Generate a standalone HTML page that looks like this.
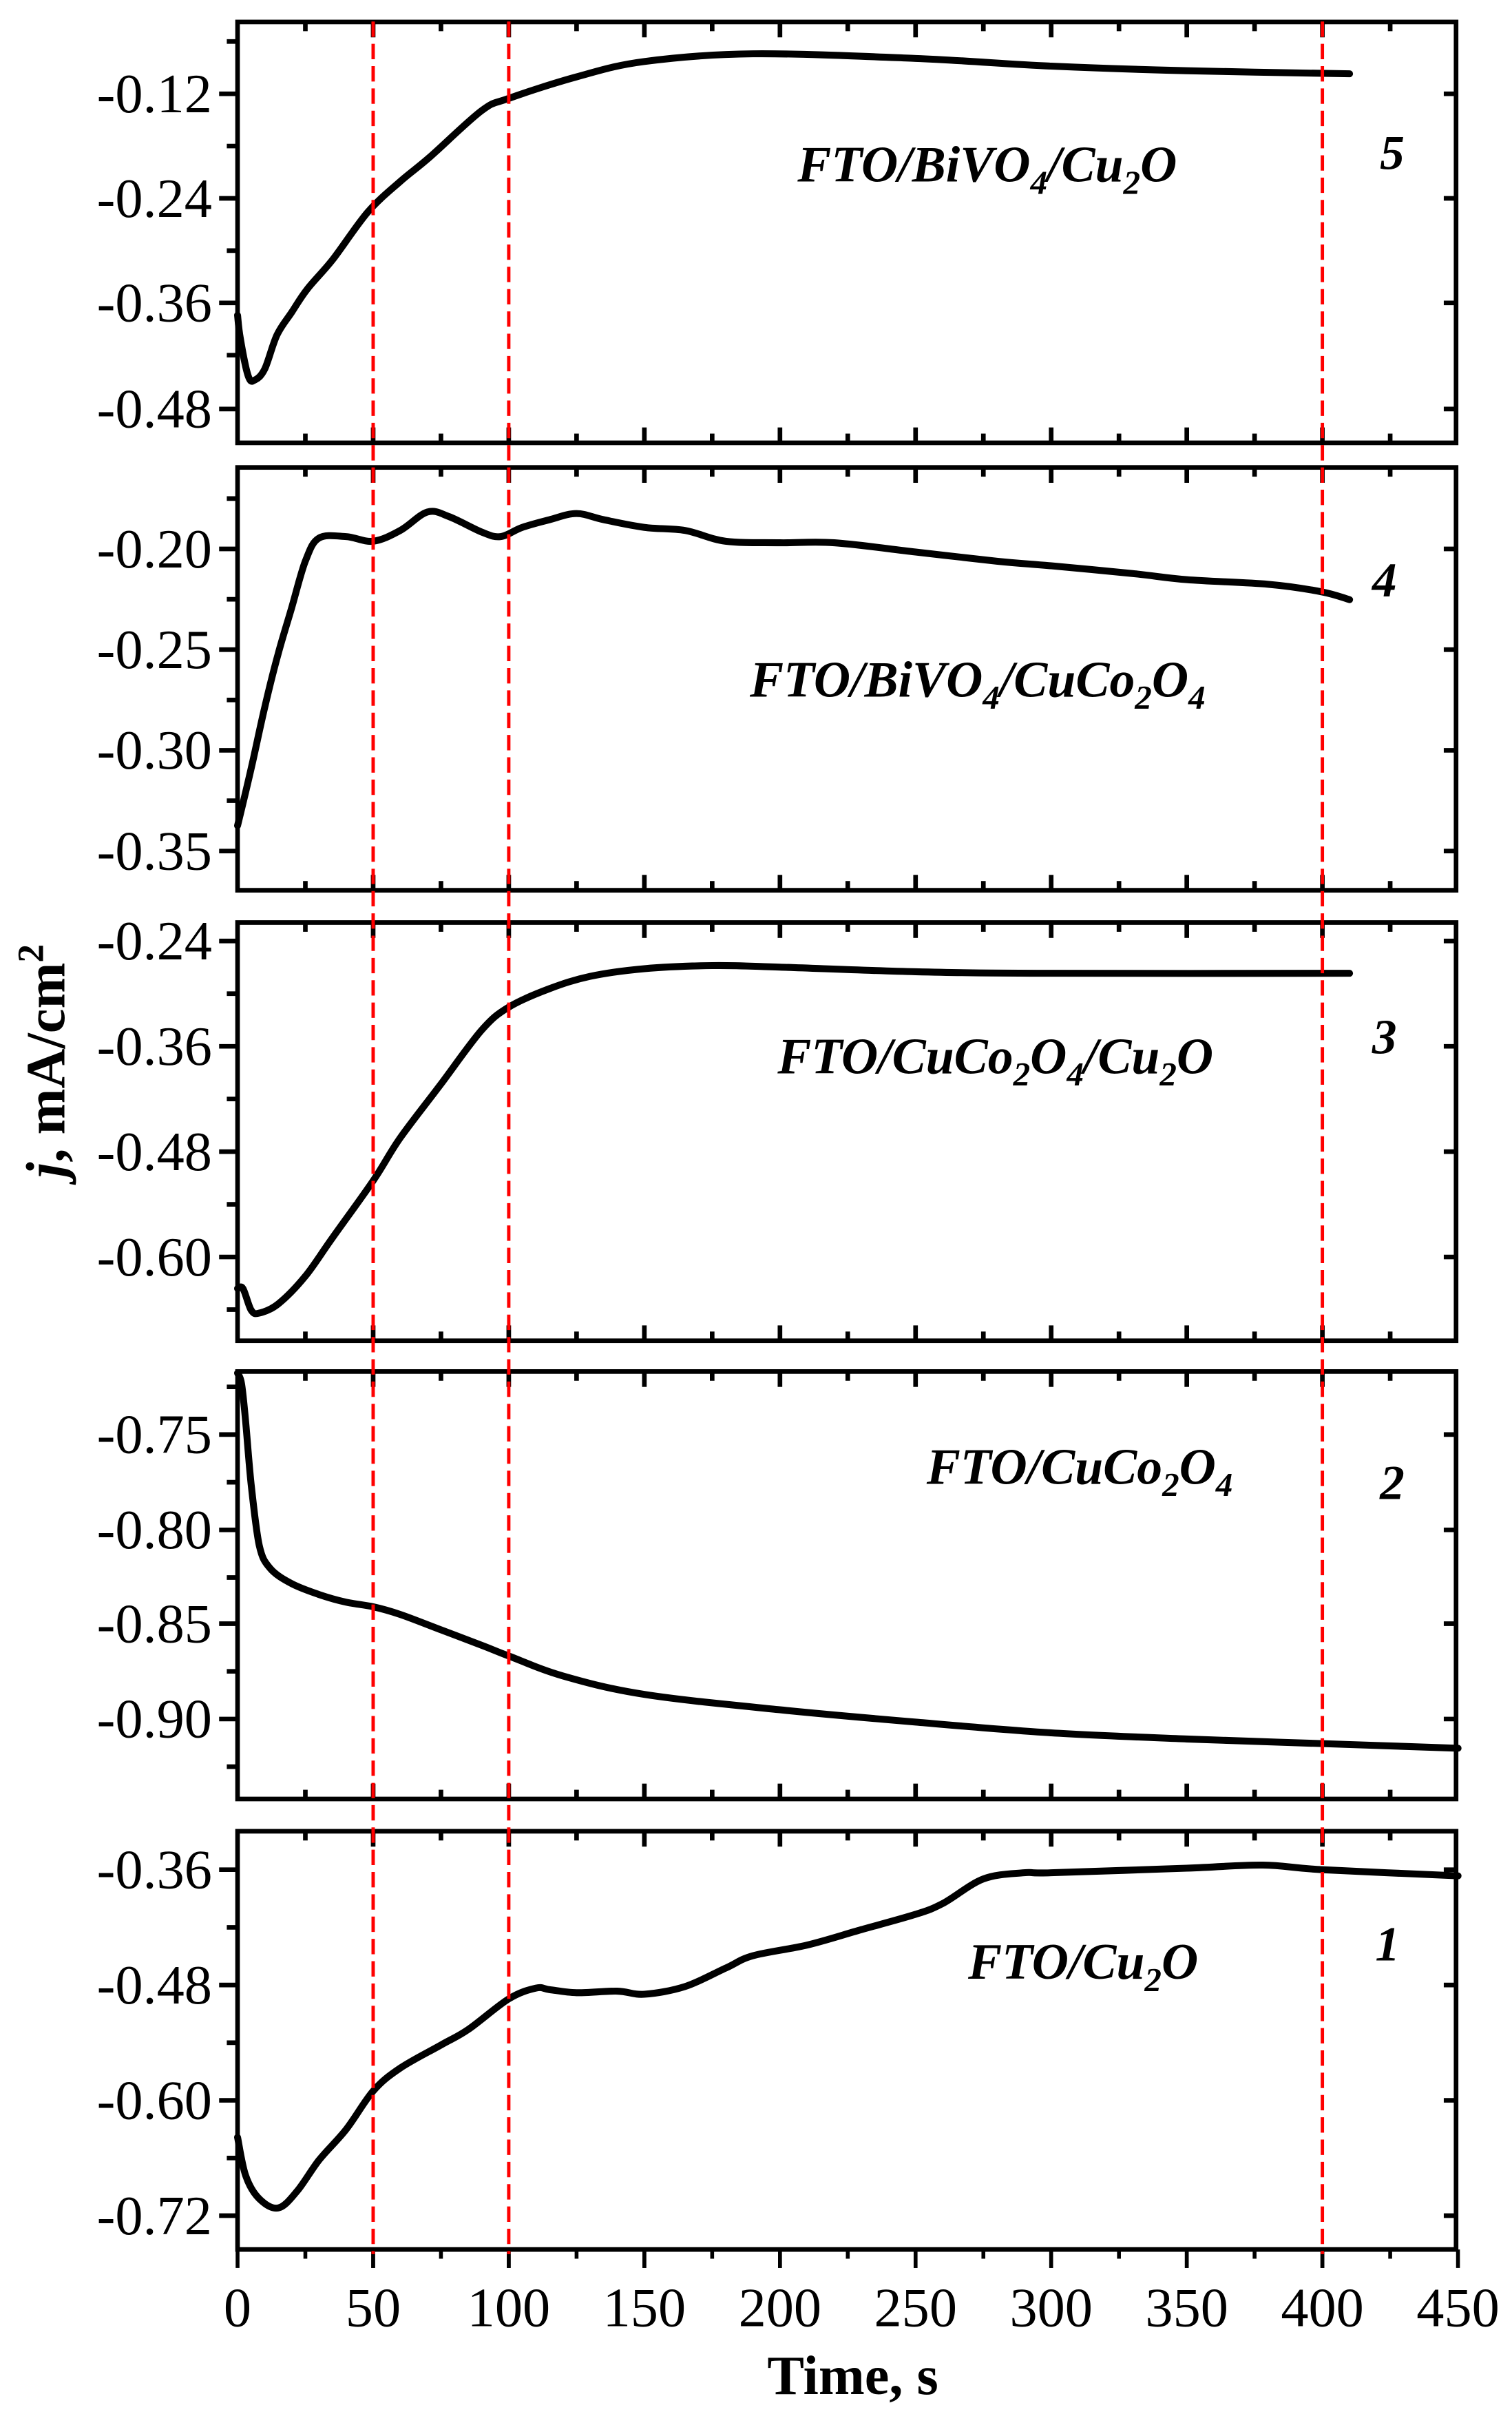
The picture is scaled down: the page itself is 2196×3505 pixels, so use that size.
<!DOCTYPE html>
<html><head><meta charset="utf-8"><style>
html,body{margin:0;padding:0;background:#fff}
svg{display:block}
text{font-family:"Liberation Serif",serif}
</style></head><body>
<svg id="s" width="2196" height="3505" viewBox="0 0 984 1570" xmlns="http://www.w3.org/2000/svg" preserveAspectRatio="none">
<rect width="984" height="1570" fill="#fff"/>
<g id="g"></g>
<g font-style="italic" font-weight="bold" font-size="33" fill="#000">
<text x="519" y="118">FTO/BiVO<tspan font-size="22" dy="8">4</tspan><tspan dy="-8">/Cu</tspan><tspan font-size="22" dy="8">2</tspan><tspan dy="-8">O</tspan></text>
<text x="898" y="110" font-size="32">5</text>
<text x="488" y="453">FTO/BiVO<tspan font-size="22" dy="8">4</tspan><tspan dy="-8">/CuCo</tspan><tspan font-size="22" dy="8">2</tspan><tspan dy="-8">O</tspan><tspan font-size="22" dy="8">4</tspan></text>
<text x="893" y="388" font-size="32">4</text>
<text x="506" y="698">FTO/CuCo<tspan font-size="22" dy="8">2</tspan><tspan dy="-8">O</tspan><tspan font-size="22" dy="8">4</tspan><tspan dy="-8">/Cu</tspan><tspan font-size="22" dy="8">2</tspan><tspan dy="-8">O</tspan></text>
<text x="893" y="685" font-size="32">3</text>
<text x="603" y="965">FTO/CuCo<tspan font-size="22" dy="8">2</tspan><tspan dy="-8">O</tspan><tspan font-size="22" dy="8">4</tspan></text>
<text x="898" y="975" font-size="32">2</text>
<text x="630" y="1287">FTO/Cu<tspan font-size="22" dy="8">2</tspan><tspan dy="-8">O</tspan></text>
<text x="895" y="1275" font-size="32">1</text>
</g>
<text x="555" y="1557" font-size="36" font-weight="bold" text-anchor="middle">Time, s</text>
<text transform="translate(42,690) rotate(-90)" font-size="36" font-weight="bold" text-anchor="middle"><tspan font-style="italic">j</tspan>, mA/cm<tspan font-size="24" dy="-14">2</tspan></text>
</svg>
<script>
var NS="http://www.w3.org/2000/svg",g=document.getElementById("g");
function el(n,a,t){var e=document.createElementNS(NS,n);for(var k in a)e.setAttribute(k,a[k]);if(t!=null)e.textContent=t;g.appendChild(e);return e;}
var L=154.6,R=947.6;function X(t){return L+t*1.765;}
var P=[
{top:14.3,bot:288,ticks:[["-0.12",61],["-0.24",129],["-0.36",197],["-0.48",266]],
d:[[0,205],[1,220],[4,245],[6.5,247],[10,240],[14.5,218],[20,203],[25.7,188],[35,169],[48,138],[60,118],[71,102],[90,72],[100,64],[125,50],[150,40],[190,35],[250,38],[300,43],[350,46],[410,48]]},
{top:304,bot:579,ticks:[["-0.20",357],["-0.25",422.5],["-0.30",488],["-0.35",553.5]],
d:[[0,537],[5,500],[10,460],[15,425],[20,395],[25,365],[30,350],[40,349],[50,352],[60,345],[70,333],[78,336],[90,346],[97,349],[105,343],[115,338],[125,334],[135,338],[150,343],[165,345],[180,352],[200,353],[220,353],[250,359],[280,365],[300,368],[330,373],[350,377],[380,380],[400,385],[410,390]]},
{top:600,bot:872,ticks:[["-0.24",612],["-0.36",680.5],["-0.48",749],["-0.60",817.5]],
d:[[0,838],[2,838],[5,852],[8,854],[15,848],[25,830],[35,805],[50,768],[60,740],[75,705],[90,670],[100,655],[115,643],[130,635],[150,630],[175,628],[200,629],[250,632],[300,633],[410,633]]},
{top:892,bot:1170,ticks:[["-0.75",933],["-0.80",995],["-0.85",1056],["-0.90",1118]],
d:[[0,893],[1.5,900],[3,925],[5,965],[8,1005],[12,1020],[20,1030],[30,1037],[40,1042],[50,1045],[60,1050],[75,1060],[90,1070],[100,1077],[120,1090],[150,1102],[200,1112],[250,1120],[300,1127],[350,1131],[400,1134],[450,1137]]},
{top:1191,bot:1463,ticks:[["-0.36",1216],["-0.48",1291],["-0.60",1366],["-0.72",1441]],last:1,
d:[[0,1390],[3,1415],[8,1430],[15,1436],[22,1425],[30,1405],[40,1385],[50,1360],[60,1345],[75,1330],[85,1320],[100,1300],[110,1293],[115,1294],[125,1296],[140,1295],[150,1297],[165,1292],[180,1280],[190,1272],[210,1265],[230,1255],[250,1245],[260,1238],[275,1222],[290,1218],[300,1218],[350,1215],[378,1213],[400,1216],[450,1220]]}
];
function smooth(pts){var s="M"+pts[0][0].toFixed(1)+","+pts[0][1];
 for(var i=0;i<pts.length-1;i++){var p0=pts[Math.max(0,i-1)],p1=pts[i],p2=pts[i+1],p3=pts[Math.min(pts.length-1,i+2)];
  var c1x=p1[0]+(p2[0]-p0[0])/6,c1y=p1[1]+(p2[1]-p0[1])/6,c2x=p2[0]-(p3[0]-p1[0])/6,c2y=p2[1]-(p3[1]-p1[1])/6;
  s+="C"+c1x.toFixed(1)+","+c1y.toFixed(1)+" "+c2x.toFixed(1)+","+c2y.toFixed(1)+" "+p2[0].toFixed(1)+","+p2[1];}
 return s;}
P.forEach(function(p){
 var pts=p.d.map(function(q){return [X(q[0]),q[1]];});
 el("path",{d:smooth(pts),fill:"none",stroke:"#000","stroke-width":4.5,"stroke-linejoin":"round","stroke-linecap":"round"});
 var sp=p.ticks[1][1]-p.ticks[0][1];
 p.ticks.forEach(function(tk){
  el("line",{x1:L-12,x2:L,y1:tk[1],y2:tk[1],stroke:"#000","stroke-width":3});
  el("line",{x1:R-8,x2:R,y1:tk[1],y2:tk[1],stroke:"#000","stroke-width":3});
  el("text",{x:138,y:tk[1]+12,"font-size":36,"text-anchor":"end"},tk[0]);
  var m=tk[1]+sp/2; if(m<p.bot-3){el("line",{x1:L-7,x2:L,y1:m,y2:m,stroke:"#000","stroke-width":3});}
  var m2=tk[1]-sp/2; if(m2>p.top+3 && tk===p.ticks[0]){el("line",{x1:L-7,x2:L,y1:m2,y2:m2,stroke:"#000","stroke-width":3});}
 });
 for(var t=25;t<450;t+=25){var maj=t%50==0,len=maj?10:6;
  el("line",{x1:X(t),x2:X(t),y1:p.top,y2:p.top+len,stroke:"#000","stroke-width":3});
  if(p.last){el("line",{x1:X(t),x2:X(t),y1:p.bot,y2:p.bot+(maj?12:6),stroke:"#000","stroke-width":2.5});}
  else el("line",{x1:X(t),x2:X(t),y1:p.bot,y2:p.bot-len,stroke:"#000","stroke-width":3});
 }
 if(p.last){for(var t=0;t<=450;t+=50){el("line",{x1:X(t),x2:X(t),y1:p.bot,y2:p.bot+12,stroke:"#000","stroke-width":2.5});
  el("text",{x:X(t),y:1513,"font-size":36,"text-anchor":"middle"},String(t));}}
 el("rect",{x:L,y:p.top,width:R-L,height:p.bot-p.top,fill:"none",stroke:"#000","stroke-width":3});
});
[50,100,400].forEach(function(t){el("line",{x1:X(t),x2:X(t),y1:14,y2:1466,stroke:"#ff0000","stroke-width":2.2,"stroke-dasharray":"10,4.5"});});
</script>
</body></html>
